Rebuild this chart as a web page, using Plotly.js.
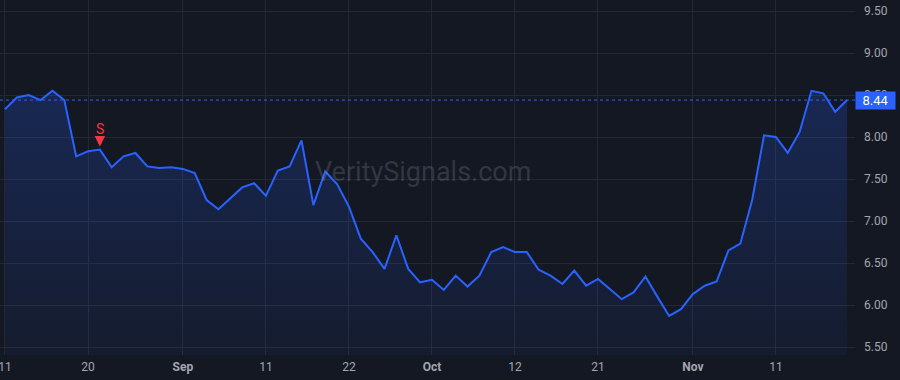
<!DOCTYPE html>
<html>
<head>
<meta charset="utf-8">
<script src="https://cdn.plot.ly/plotly-3.0.1.min.js"></script>
<style>
  html, body { margin: 0; padding: 0; background: #141823; }
  #chart { width: 900px; height: 380px; }
</style>
</head>
<body>
<div id="chart"></div>
<script>
// Price series, one value per bar (index 0..71)
const prices = [
  8.33, 8.47, 8.50, 8.44, 8.55, 8.44, 7.77, 7.83, 7.85, 7.64,
  7.77, 7.81, 7.65, 7.63, 7.64, 7.62, 7.57, 7.25, 7.14, 7.27,
  7.40, 7.45, 7.30, 7.60, 7.65, 7.96, 7.19, 7.59, 7.44, 7.17,
  6.79, 6.63, 6.43, 6.83, 6.43, 6.27, 6.30, 6.18, 6.35, 6.22,
  6.35, 6.63, 6.69, 6.63, 6.63, 6.42, 6.35, 6.25, 6.41, 6.23,
  6.31, 6.19, 6.07, 6.15, 6.34, 6.10, 5.87, 5.95, 6.13, 6.23,
  6.28, 6.65, 6.73, 7.25, 8.02, 8.00, 7.81, 8.06, 8.55, 8.52,
  8.30, 8.44
];
const barIndex = prices.map((_, i) => i);

// X tick labels and the bars they sit on
const tickBars = [0, 7, 15, 22, 29, 36, 43, 50, 58, 65];
const tickLabels = ["11", "20", "<b>Sep</b>", "11", "22", "<b>Oct</b>", "12", "21", "<b>Nov</b>", "11"];

// Y ticks
const yTicks = [5.5, 6.0, 6.5, 7.0, 7.5, 8.0, 8.5, 9.0, 9.5];
const yTickLabels = ["5.50", "6.00", "6.50", "7.00", "7.50", "8.00", "8.50", "9.00", "9.50"];

// Signal marker and last price
const signalBar = 8;
const signalLabel = "S";
const lastPrice = prices[prices.length - 1];
const watermark = "VeritySignals.com";

const blue = "#2962ff";
const red = "#f23645";
const textColor = "#a3a6ae";
const gridColor = "#242833";

const trace = {
  x: barIndex,
  y: prices,
  type: "scatter",
  mode: "lines",
  line: { color: blue, width: 2 },
  fill: "tozeroy",
  fillgradient: {
    type: "vertical",
    start: 5.4,
    stop: 8.6,
    colorscale: [[0, "rgba(41,98,255,0.05)"], [1, "rgba(41,98,255,0.22)"]]
  },
  hoverinfo: "skip"
};

const layout = {
  width: 900,
  height: 380,
  margin: { l: 0, r: 45, t: 0, b: 25 },
  paper_bgcolor: "#141823",
  plot_bgcolor: "#141823",
  showlegend: false,
  font: { family: "Roboto, 'Liberation Sans', sans-serif", size: 12, color: textColor },
  xaxis: {
    type: "linear",
    range: [-0.42, 71.67],
    tickmode: "array",
    tickvals: tickBars,
    ticktext: tickLabels,
    showgrid: true,
    gridcolor: gridColor,
    gridwidth: 1,
    zeroline: false,
    showline: false,
    ticks: "",
    ticklabeloverflow: "allow",
    ticklabelstandoff: 3,
    tickfont: { size: 12, color: textColor },
    fixedrange: true
  },
  yaxis: {
    side: "right",
    range: [5.405, 9.631],
    tickmode: "array",
    tickvals: yTicks,
    ticktext: yTickLabels,
    showgrid: true,
    gridcolor: gridColor,
    gridwidth: 1,
    zeroline: false,
    showline: false,
    ticks: "",
    ticklabelstandoff: 8,
    tickfont: { size: 12, color: textColor },
    fixedrange: true
  },
  shapes: [
    {
      type: "line", xref: "paper", yref: "y",
      x0: 0, x1: 1, y0: lastPrice, y1: lastPrice,
      line: { color: blue, width: 1, dash: "dot" }
    }
  ],
  annotations: [
    {
      xref: "paper", yref: "y", x: 1, y: lastPrice,
      xanchor: "left", yanchor: "middle",
      text: lastPrice.toFixed(2),
      showarrow: false,
      bgcolor: blue,
      font: { color: "#ffffff", size: 13 },
      width: 37, height: 15, borderpad: 1
    },
    {
      xref: "x", yref: "y", x: signalBar, y: prices[signalBar],
      text: signalLabel,
      showarrow: false,
      yanchor: "middle",
      yshift: 21,
      font: { color: red, size: 14 }
    },
    {
      xref: "x", yref: "y", x: signalBar, y: prices[signalBar],
      text: "",
      showarrow: true,
      arrowhead: 2, arrowsize: 0.7, arrowwidth: 3, arrowcolor: red,
      ax: 0, ay: -15, standoff: 3
    },
    {
      xref: "paper", yref: "paper", x: 0.495, y: 0.515,
      xanchor: "center", yanchor: "middle",
      text: watermark, showarrow: false,
      font: { size: 27, color: "rgba(160,165,180,0.22)" }
    }
  ]
};

Plotly.newPlot("chart", [trace], layout, { displayModeBar: false, staticPlot: true });
</script>
</body>
</html>
